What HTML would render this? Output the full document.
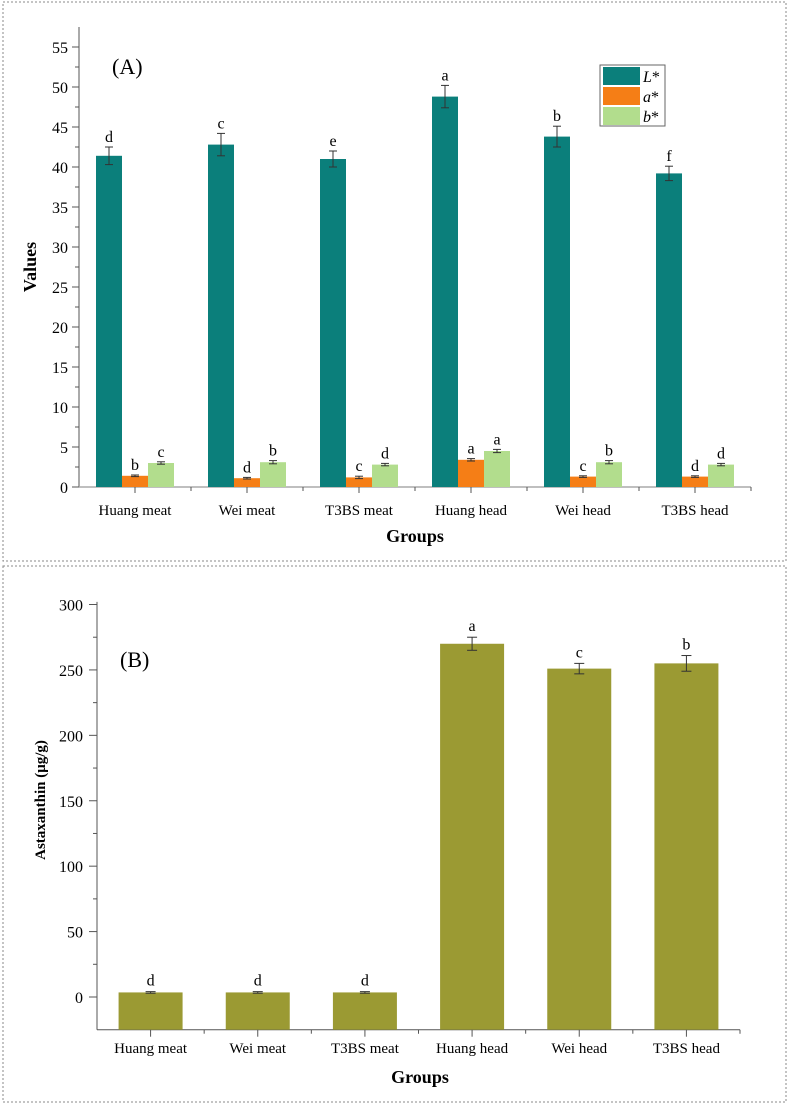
<!DOCTYPE html>
<html><head><meta charset="utf-8"><style>
body{margin:0;background:#fff;}
svg{display:block;font-family:"Liberation Serif",serif;}
</style></head><body>
<svg id="chart" width="789" height="1104" viewBox="0 0 789 1104">
<rect x="3" y="2" width="783" height="559" fill="none" stroke="#888" stroke-dasharray="2,2"/>
<rect x="3" y="566" width="783" height="536" fill="none" stroke="#888" stroke-dasharray="2,2"/>
<g id="pa"></g>
<g id="pb"></g>
</svg>
<script>
const categories = ["Huang meat","Wei meat","T3BS meat","Huang head","Wei head","T3BS head"];
const lValues = [41.4,42.8,41.0,48.8,43.8,39.2];
const lErrors = [1.1,1.4,1.0,1.4,1.3,0.9];
const lLetters = ["d","c","e","a","b","f"];
const aValues = [1.4,1.1,1.2,3.4,1.3,1.3];
const aErrors = [0.1,0.1,0.15,0.15,0.1,0.1];
const aLetters = ["b","d","c","a","c","d"];
const bValues = [3.0,3.1,2.8,4.5,3.1,2.8];
const bErrors = [0.15,0.2,0.15,0.2,0.2,0.15];
const bLetters = ["c","b","d","a","b","d"];
const yTicksA = [0,5,10,15,20,25,30,35,40,45,50,55];
const astaValues = [3.5,3.5,3.5,270,251,255];
const astaErrors = [0.6,0.6,0.6,5,4,6];
const astaLetters = ["d","d","d","a","c","b"];
const yTicksB = [0,50,100,150,200,250,300];

const NS="http://www.w3.org/2000/svg";
function mk(parent,tag,attrs,text){const e=document.createElementNS(NS,tag);for(const k in attrs)e.setAttribute(k,attrs[k]);if(text!==undefined)e.textContent=text;parent.appendChild(e);return e;}

// Panel A
const pa=document.getElementById('pa');
const ax0=79, ax1=751, y0A=487, pxA=8;
const yA=v=>y0A-v*pxA;
const gwA=(ax1-ax0)/categories.length;
const cxA=i=>ax0+gwA/2+gwA*i;
let e;
e=mk(pa,'line',{x1:ax0,y1:yA(57.5),x2:ax0,y2:y0A,stroke:'#555'});


e=mk(pa,'line',{x1:ax0,y1:y0A,x2:ax1,y2:y0A,stroke:'#aaa','stroke-width':1.5});


yTicksA.forEach(t=>{
  mk(pa,'line',{x1:ax0-7,y1:yA(t),x2:ax0,y2:yA(t),stroke:'#555'});
  if(t<55) mk(pa,'line',{x1:ax0-4,y1:yA(t+2.5),x2:ax0,y2:yA(t+2.5),stroke:'#555'});
  e=mk(pa,'text',{x:ax0-11,y:yA(t)+6,'text-anchor':'end','font-size':16},t);
  
  
});
const colors=['#0b7f7b','#f57e16','#b2dd8d'];
const series=[[lValues,lErrors,lLetters],[aValues,aErrors,aLetters],[bValues,bErrors,bLetters]];
const sNames=['l','a','b'];
const bw=26;
categories.forEach((c,i)=>{
  const cx=cxA(i);
  mk(pa,'line',{x1:cx,y1:y0A,x2:cx,y2:y0A+6,stroke:'#555'});
  mk(pa,'line',{x1:ax0+gwA*(i+1),y1:y0A,x2:ax0+gwA*(i+1),y2:y0A+4,stroke:'#555'});
  e=mk(pa,'text',{x:cx,y:y0A+28,'text-anchor':'middle','font-size':15},c);
  
  
  series.forEach((s,k)=>{
    const v=s[0][i],er=s[1][i];
    const x=cx-bw*1.5+bw*k;
    e=mk(pa,'rect',{x:x,y:yA(v),width:bw,height:y0A-yA(v),fill:colors[k]});
    
    
    const bx=x+bw/2;
    mk(pa,'line',{x1:bx,y1:yA(v+er),x2:bx,y2:yA(v-er),stroke:'#333'});
    mk(pa,'line',{x1:bx-4,y1:yA(v+er),x2:bx+4,y2:yA(v+er),stroke:'#333'});
    mk(pa,'line',{x1:bx-4,y1:yA(v-er),x2:bx+4,y2:yA(v-er),stroke:'#333'});
    e=mk(pa,'text',{x:bx,y:yA(v+er)-5,'text-anchor':'middle','font-size':16},s[2][i]);
    
    
  });
});
e=mk(pa,'text',{x:112,y:74,'font-size':22},'(A)');


e=mk(pa,'text',{x:0,y:0,'font-size':18,'font-weight':'bold','text-anchor':'middle',transform:'translate(36,267) rotate(-90)'},'Values');


e=mk(pa,'text',{x:415,y:542,'font-size':18,'font-weight':'bold','text-anchor':'middle'},'Groups');


const lg=mk(pa,'g',{});


mk(lg,'rect',{x:600,y:65,width:65,height:61,fill:'#fff',stroke:'#666'});
['L*','a*','b*'].forEach((t,k)=>{
  e=mk(lg,'rect',{x:603,y:67+20*k,width:37,height:18,fill:colors[k]});
  
  
  const tx=mk(lg,'text',{x:643,y:82+20*k,'font-size':16,'font-style':'italic'},t[0]);
  mk(tx,'tspan',{'font-style':'normal'},'*');
  
  
});

// Panel B
const pb=document.getElementById('pb');
const bx0=97,bx1=740,y0B=997,pxB=1.3083;
const yB=v=>y0B-v*pxB;
const baseB=yB(-25);
const gwB=(bx1-bx0)/categories.length;
const cxB=i=>bx0+gwB/2+gwB*i;
e=mk(pb,'line',{x1:bx0,y1:yB(302),x2:bx0,y2:baseB,stroke:'#555'});


e=mk(pb,'line',{x1:bx0,y1:baseB,x2:bx1,y2:baseB,stroke:'#555'});


yTicksB.forEach(t=>{
  mk(pb,'line',{x1:bx0-8,y1:yB(t),x2:bx0,y2:yB(t),stroke:'#555'});
  if(t<300) mk(pb,'line',{x1:bx0-4,y1:yB(t+25),x2:bx0,y2:yB(t+25),stroke:'#555'});
  e=mk(pb,'text',{x:bx0-14,y:yB(t)+6,'text-anchor':'end','font-size':16},t);
  
  
});
const bwB=64;
categories.forEach((c,i)=>{
  const cx=cxB(i);
  const v=astaValues[i],er=astaErrors[i];
  e=mk(pb,'rect',{x:cx-bwB/2,y:yB(v),width:bwB,height:baseB-yB(v),fill:'#9b9a33'});
  
  
  mk(pb,'line',{x1:cx,y1:baseB,x2:cx,y2:baseB+7,stroke:'#555'});
  mk(pb,'line',{x1:bx0+gwB*(i+1),y1:baseB,x2:bx0+gwB*(i+1),y2:baseB+4,stroke:'#555'});
  e=mk(pb,'text',{x:cx,y:1053,'text-anchor':'middle','font-size':15},c);
  
  
  mk(pb,'line',{x1:cx,y1:yB(v+er),x2:cx,y2:yB(v-er),stroke:'#333'});
  mk(pb,'line',{x1:cx-5,y1:yB(v+er),x2:cx+5,y2:yB(v+er),stroke:'#333'});
  mk(pb,'line',{x1:cx-5,y1:yB(v-er),x2:cx+5,y2:yB(v-er),stroke:'#333'});
  e=mk(pb,'text',{x:cx,y:yB(v+er)-6,'text-anchor':'middle','font-size':16},astaLetters[i]);
  
  
});
e=mk(pb,'text',{x:120,y:667,'font-size':22},'(B)');


e=mk(pb,'text',{x:0,y:0,'font-size':15,'font-weight':'bold','text-anchor':'middle',transform:'translate(45,800) rotate(-90)'},'Astaxanthin (\u03bcg/g)');


e=mk(pb,'text',{x:420,y:1083,'font-size':18,'font-weight':'bold','text-anchor':'middle'},'Groups');


</script>
</body></html>
